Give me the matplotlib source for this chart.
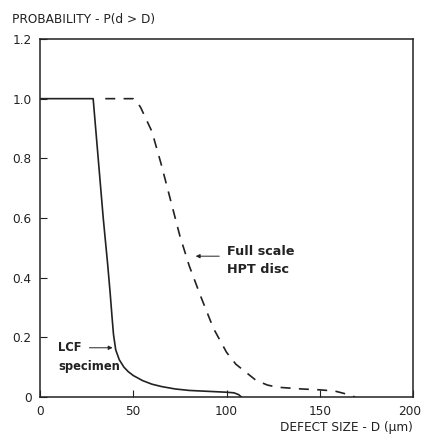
import matplotlib
matplotlib.use("Agg")
import matplotlib.pyplot as plt
from matplotlib.transforms import ScaledTranslation

# Data
lcf_x = [0, 28.5, 31.2, 33.9, 36.2, 37.6, 38.6, 39.4, 40.6, 42.5, 45, 47.3, 50, 55, 60, 65.2, 72.4, 80, 90, 100, 104, 106.5, 108]
lcf_y = [1.0, 1.0, 0.80, 0.60, 0.45, 0.35, 0.27, 0.21, 0.158, 0.125, 0.10, 0.085, 0.072, 0.055, 0.043, 0.035, 0.027, 0.022, 0.019, 0.016, 0.014, 0.008, 0.0]
hpt_x = [35, 50, 52, 54, 60, 65, 70, 75, 80, 86, 93, 100, 105, 110, 116, 122, 127, 140, 150, 158, 163, 169]
hpt_y = [1.0, 1.0, 0.99, 0.97, 0.89, 0.78, 0.66, 0.54, 0.44, 0.34, 0.23, 0.15, 0.11, 0.085, 0.055, 0.04, 0.033, 0.027, 0.024, 0.02, 0.012, 0.0]
x_ticks = [0, 50, 100, 150, 200]
x_labels = ["0", "50", "100", "150", "200"]
y_ticks = [0, 0.2, 0.4, 0.6, 0.8, 1.0, 1.2]
y_labels = ["0", "0.2", "0.4", "0.6", "0.8", "1.0", "1.2"]

plt.rcParams['font.family'] = ['DejaVu Sans']
ink = '#222222'

fig = plt.figure(figsize=(4.21, 4.43), dpi=100)
ax = fig.add_axes([40/421, 1-397/443, 373/421, 358/443])

ax.plot(lcf_x, lcf_y, color=ink, lw=1.2)
ax.plot(hpt_x, hpt_y, color=ink, lw=1.2, dashes=(6, 5))

ax.set_xlim(0, 200)
ax.set_ylim(0, 1.2)
ax.set_xticks(x_ticks)
ax.set_xticklabels(x_labels, fontsize=8.7, color=ink)
ax.set_yticks(y_ticks)
ax.set_yticklabels(y_labels, fontsize=8.7, color=ink)
ax.tick_params(direction='in', length=5, width=0.8, colors=ink, pad=6)
for s in ax.spines.values():
    s.set_linewidth(1.1)
    s.set_color(ink)

# keep the last x tick label fully inside the canvas
last = ax.get_xticklabels()[-1]
last.set_transform(last.get_transform() + ScaledTranslation(-3/100, 0, fig.dpi_scale_trans))

fig.text(12/421, 1-19/443, "PROBABILITY - P(d > D)", fontsize=8.7, va='center', ha='left', color=ink)
fig.text(413/421, 1-427/443, "DEFECT SIZE - D (\u03bcm)", fontsize=8.7, va='center', ha='right', color=ink)

ax.text(9.8, 0.165, "LCF", fontsize=8.3, fontweight='bold', va='center', ha='left', color=ink)
ax.text(9.8, 0.101, "specimen", fontsize=8.3, fontweight='bold', va='center', ha='left', color=ink)
ax.annotate("", xy=(40.4, 0.165), xytext=(25, 0.165),
            arrowprops=dict(arrowstyle='-|>', color=ink, lw=0.7, mutation_scale=6))

ax.text(100.3, 0.489, "Full scale", fontsize=9.2, fontweight='bold', va='center', ha='left', color=ink)
ax.text(100.3, 0.428, "HPT disc", fontsize=9.2, fontweight='bold', va='center', ha='left', color=ink)
ax.annotate("", xy=(82, 0.472), xytext=(97.6, 0.472),
            arrowprops=dict(arrowstyle='-|>', color=ink, lw=0.7, mutation_scale=6))

fig.savefig("out.png", dpi=100)
